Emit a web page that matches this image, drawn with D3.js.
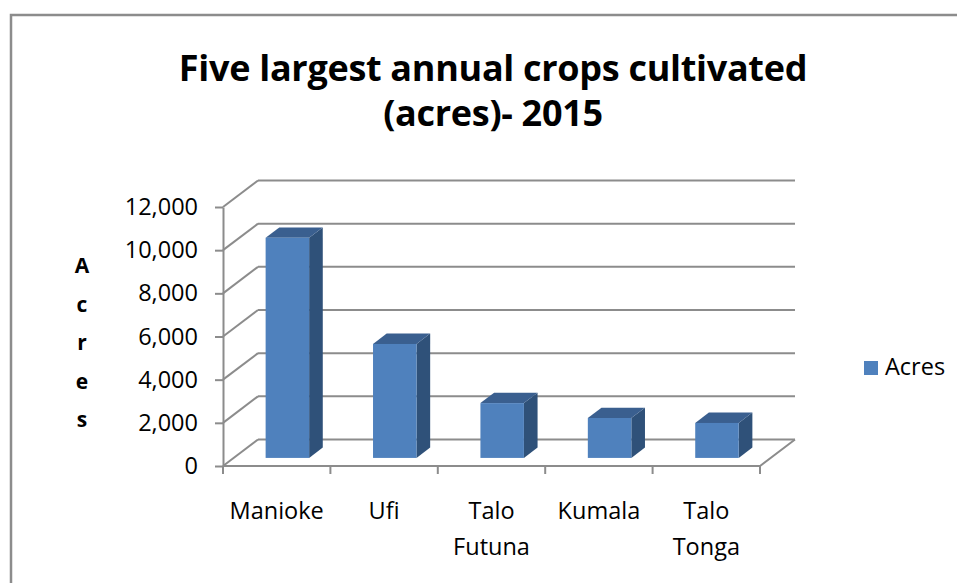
<!DOCTYPE html>
<html>
<head>
<meta charset="utf-8">
<script src="https://cdn.jsdelivr.net/npm/d3@7"></script>
<style>
  body { margin: 0; background: #fff; }
  text { font-family: "Open Sans", sans-serif; fill: #000; }
</style>
</head>
<body>
<script>
// chart data
var categories = ["Manioke", "Ufi", "Talo Futuna", "Kumala", "Talo Tonga"];
var acres = [10200, 5280, 2540, 1850, 1620];
var yTicks = [0, 2000, 4000, 6000, 8000, 10000, 12000];
var seriesName = "Acres";
var titleLines = ["Five largest annual crops cultivated", "(acres)- 2015"];

var w = 957, h = 583;
var grid = "#8c8c8c";
var depthX = 35, depthY = -26.5;   // 3d wall offset

var svg = d3.select("body")
            .append("svg")
            .attr("width", w)
            .attr("height", h);

// chart border
svg.append("rect")
   .attr("x", 11).attr("y", 15)
   .attr("width", 1000).attr("height", 1000)
   .style("fill", "none")
   .style("stroke", grid)
   .style("stroke-width", 2.5);

// title
svg.append("text")
   .attr("x", 493).attr("y", 81)
   .attr("text-anchor", "middle")
   .style("font-weight", "bold")
   .style("font-size", "36px")
   .style("letter-spacing", "-0.3px")
   .selectAll("tspan")
   .data(titleLines)
   .enter().append("tspan")
   .attr("x", 493)
   .attr("dy", function(d, i) { return i ? 45 : 0; })
   .text(function(d) { return d; });

var y = d3.scaleLinear().domain([0, 12000]).range([466, 207]);
var x = d3.scaleBand().domain(categories).range([223, 760]);

// back wall gridlines
svg.append("g").selectAll("line")
   .data(yTicks)
   .enter().append("line")
   .attr("x1", 223 + depthX).attr("x2", 760 + depthX)
   .attr("y1", function(d) { return y(d) + depthY; })
   .attr("y2", function(d) { return y(d) + depthY; })
   .style("stroke", grid).style("stroke-width", 2);

// side wall gridlines
svg.append("g").selectAll("line")
   .data(yTicks)
   .enter().append("line")
   .attr("x1", 223).attr("x2", 223 + depthX)
   .attr("y1", function(d) { return y(d); })
   .attr("y2", function(d) { return y(d) + depthY; })
   .style("stroke", grid).style("stroke-width", 2);

// floor front edge + right edge
svg.append("path")
   .attr("d", "M223," + y(0) + "L760," + y(0) + "L" + (760 + depthX) + "," + (y(0) + depthY))
   .style("fill", "none").style("stroke", grid).style("stroke-width", 2);

// category ticks
var bounds = categories.map(function(c) { return x(c); }).concat([x.range()[1]]);
svg.append("g").selectAll("line")
   .data(bounds)
   .enter().append("line")
   .attr("x1", function(d) { return d; }).attr("x2", function(d) { return d; })
   .attr("y1", y(0)).attr("y2", y(0) + 8)
   .style("stroke", grid).style("stroke-width", 2);

// y axis
var yAxis = svg.append("g")
   .attr("transform", "translate(223,0)")
   .call(d3.axisLeft(y)
           .tickValues(yTicks)
           .tickSize(8)
           .tickSizeOuter(0)
           .tickPadding(17)
           .tickFormat(d3.format(",")));
yAxis.selectAll("path, line").style("stroke", grid).style("stroke-width", 2);
yAxis.selectAll("text")
     .style("font-family", "'Open Sans', sans-serif")
     .style("font-size", "23.5px")
     .attr("fill", "#000");

// bars (front, top, side)
var bw = x.bandwidth() * 0.405;
var bd = 0.39;                       // bar depth as share of wall depth
var off = (1 - bd) / 2;
var bdx = depthX * bd, bdy = depthY * bd;

var bars = svg.append("g").selectAll("g")
   .data(acres)
   .enter().append("g")
   .attr("transform", function(d, i) {
       var cx = x(categories[i]) + x.bandwidth() / 2;
       return "translate(" + (cx - bw / 2 + depthX * off) + "," + (depthY * off) + ")";
   });

bars.append("path")
    .attr("d", function(d) {
        var t = y(d), b = y(0);
        return "M" + bw + "," + b + "L" + (bw + bdx) + "," + (b + bdy) +
               "L" + (bw + bdx) + "," + (t + bdy) + "L" + bw + "," + t + "Z";
    })
    .style("fill", "#2f5179");

bars.append("path")
    .attr("d", function(d) {
        var t = y(d);
        return "M0," + t + "L" + bdx + "," + (t + bdy) + "L" + (bw + bdx) + "," + (t + bdy) +
               "L" + bw + "," + t + "Z";
    })
    .style("fill", "#3a5f8f");

bars.append("rect")
    .attr("x", 0)
    .attr("y", function(d) { return y(d); })
    .attr("width", bw)
    .attr("height", function(d) { return y(0) - y(d); })
    .style("fill", "#4f81bd");

// category labels
svg.append("g").selectAll("text")
   .data(categories)
   .enter().append("text")
   .attr("text-anchor", "middle")
   .style("font-size", "23.5px")
   .each(function(c) {
       var cx = x(c) + x.bandwidth() / 2;
       d3.select(this).selectAll("tspan")
         .data(c.split(" "))
         .enter().append("tspan")
         .attr("x", cx)
         .attr("y", function(d, i) { return 519 + i * 36; })
         .text(function(d) { return d; });
   });

// axis title, one letter per line
svg.append("g").selectAll("text")
   .data(seriesName.split(""))
   .enter().append("text")
   .attr("x", 82)
   .attr("y", function(d, i) { return 273 + i * 38.5; })
   .attr("text-anchor", "middle")
   .style("font-weight", "bold")
   .style("font-size", "21px")
   .text(function(d) { return d; });

// legend
svg.append("rect")
   .attr("x", 864).attr("y", 361)
   .attr("width", 14).attr("height", 14)
   .style("fill", "#4f81bd");
svg.append("text")
   .attr("x", 885).attr("y", 375)
   .style("font-size", "23.5px")
   .text(seriesName);
</script>
</body>
</html>
